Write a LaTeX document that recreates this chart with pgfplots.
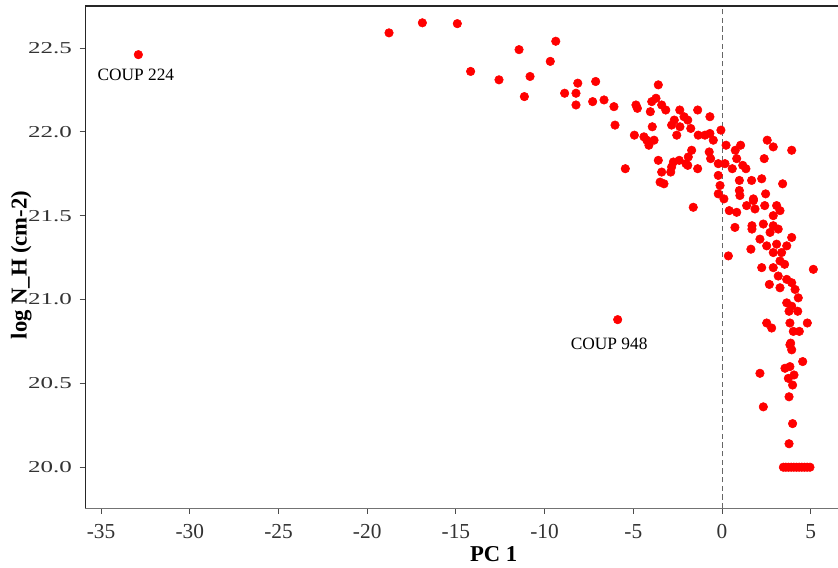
\documentclass[border=0pt]{standalone}
\usepackage{pgfplots}
\pgfplotsset{compat=1.18}
\usepackage{fontspec}
\setmainfont{Liberation Serif}
\newfontfamily\ytickfont[FakeStretch=1.5]{Liberation Serif}

\begin{document}
\begin{tikzpicture}
\begin{axis}[
    scale only axis,
    width=564.5pt, height=376.7pt,
    xmin=-35.89, xmax=6.54,
    ymin=19.755, ymax=22.75,
    axis x line*=bottom, axis y line*=left,
    x axis line style={-, black!55, line width=1.1pt},
    y axis line style={-, black!85, line width=0.7pt},
    tick align=outside,
    major tick length=4.2pt,
    tick style={black!70, line width=0.6pt},
    xtick={-35,-30,...,5},
    xticklabels={-35,-30,-25,-20,-15,-10,-5,0,5},
    ytick={20,20.5,21,21.5,22,22.5},
    yticklabels={20.0,20.5,21.0,21.5,22.0,22.5},
    xticklabel style={font=\fontsize{16}{16}\selectfont, text=black!80,
        anchor=north, inner sep=0pt, yshift=-7.6pt},
    yticklabel style={font=\ytickfont\fontsize{12.5}{12.5}\selectfont, text=black!80,
        anchor=east, inner sep=0pt, xshift=-5.7pt},
    xlabel={PC 1},
    ylabel={log N\_H (cm-2)},
    label style={font=\bfseries\fontsize{17}{17}\selectfont},
    xlabel style={at={(rel axis cs:0.5426,-0.1065)}, anchor=base},
    ylabel style={at={(rel axis cs:-0.0779,0.4844)}, anchor=base},
    clip=false,
]
% vertical reference line at PC 1 = 0
\addplot[black!60, dashed, line width=0.6pt, dash pattern=on 4pt off 2.5pt]
    coordinates {(0,19.755) (0,22.75)};
% sources
\addplot[only marks, mark=*, mark size=3.2pt, mark options={fill=red, draw=red}]
    coordinates {
    (-32.90,22.46) (-5.88,20.88)
    (-18.77,22.59) (-16.89,22.65) (-14.92,22.645) (-14.17,22.36) (-12.57,22.31)
    (-11.44,22.49) (-11.14,22.21) (-10.82,22.33) (-9.37,22.54) (-9.68,22.42)
    (-8.87,22.23) (-8.13,22.29) (-8.23,22.23) (-8.23,22.16) (-7.12,22.30)
    (-7.29,22.18) (-6.65,22.19) (-6.09,22.15) (-6.03,22.04) (-5.45,21.78)
    (-4.94,21.98) (-4.85,22.16) (-4.77,22.14) (-4.04,22.12) (-3.96,22.18)
    (-3.72,22.20) (-3.59,22.28) (-3.40,22.16) (-3.17,22.13) (-3.93,22.03)
    (-4.40,21.97) (-4.24,21.95) (-4.12,21.92) (-3.83,21.95) (-3.59,21.83)
    (-3.40,21.76) (-3.49,21.70) (-3.27,21.69) (-2.89,21.76) (-2.74,21.82)
    (-2.41,21.83) (-2.03,21.81) (-1.90,21.85) (-1.71,21.89) (-1.37,21.78)
    (-2.55,21.98) (-2.37,22.03) (-2.84,22.04) (-2.69,22.07) (-2.38,22.13)
    (-2.14,22.09) (-1.93,22.07) (-1.76,22.02) (-1.37,22.13) (-1.34,21.98)
    (-0.96,21.98) (-0.68,21.99) (-0.68,22.09) (-0.49,21.95) (-0.06,22.01)
    (-0.72,21.88) (-0.64,21.84) (-0.21,21.81) (0.17,21.81) (-0.21,21.74)
    (0.23,21.92) (0.58,21.78) (0.75,21.89) (1.05,21.92) (0.83,21.84)
    (1.17,21.80) (1.35,21.78) (-0.11,21.68) (-0.21,21.63) (0.98,21.71)
    (0.98,21.65) (1.67,21.71) (2.24,21.72) (2.46,21.63) (2.38,21.84)
    (2.55,21.95) (2.89,21.91) (3.93,21.89) (3.42,21.69) (1.77,21.60)
    (-2.84,21.79) (-1.93,21.80) (-1.62,21.55) (0.11,21.60) (1.01,21.62)
    (0.41,21.53) (0.83,21.52) (0.73,21.43) (0.36,21.26)
    (1.39,21.56) (1.77,21.59) (1.86,21.54) (2.41,21.56) (3.08,21.56)
    (3.27,21.53) (2.89,21.50) (2.33,21.45) (1.69,21.44) (1.69,21.42)
    (2.89,21.44) (3.17,21.42) (2.71,21.40) (2.14,21.36) (3.93,21.37)
    (2.52,21.32) (3.08,21.33) (3.65,21.32) (1.63,21.30) (2.89,21.28)
    (3.36,21.28) (3.27,21.23) (3.53,21.21) (2.24,21.19) (2.89,21.19)
    (5.15,21.18) (3.17,21.14) (3.65,21.12) (3.93,21.10) (2.67,21.09)
    (3.27,21.07) (4.12,21.06) (4.30,21.01) (3.65,20.98) (3.93,20.96)
    (3.78,20.93) (4.27,20.93) (2.52,20.86) (2.80,20.83) (3.83,20.86)
    (4.81,20.86) (4.02,20.81) (4.36,20.81) (3.87,20.74)
    (3.83,20.73) (3.93,20.70) (4.55,20.63) (3.55,20.59) (3.83,20.60)
    (2.14,20.56) (3.74,20.53) (4.06,20.55) (3.98,20.49) (3.78,20.42)
    (2.33,20.36) (3.98,20.26) (3.78,20.14)
    (3.46,20.00) (3.60,20.00) (3.75,20.00) (3.90,20.00) (4.05,20.00)
    (4.20,20.00) (4.35,20.00) (4.50,20.00) (4.65,20.00) (4.80,20.00)
    (4.96,20.00)
    };
\node[anchor=base, font=\fontsize{13}{13}\selectfont] at (axis cs:-33.04,22.306) {COUP 224};
\node[anchor=base, font=\fontsize{13}{13}\selectfont] at (axis cs:-6.36,20.70) {COUP 948};
\draw[black!85, line width=1.1pt] (rel axis cs:0,1) -- (rel axis cs:1,1);
\coordinate (bbsw) at (axis cs:-40.70,19.405);
\coordinate (bbne) at (axis cs:6.54,22.786);
\end{axis}
\pgfresetboundingbox
\useasboundingbox (bbsw) rectangle (bbne);
\end{tikzpicture}
\end{document}
